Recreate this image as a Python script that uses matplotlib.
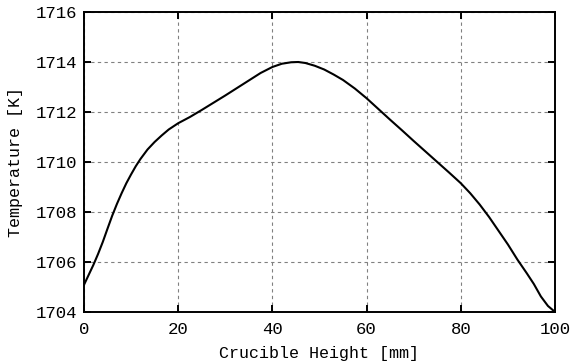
import numpy as np
import matplotlib
matplotlib.use('Agg')
import matplotlib.pyplot as plt

# values
height = [0, 1, 2, 3, 4, 5, 6, 7, 8, 9, 10, 11, 12, 13.5, 15, 16.5, 18, 20, 22.5,
          25, 27.5, 30, 32.5, 35, 37.5, 40, 42, 44, 45.5, 47, 49, 51, 53, 55, 57.5,
          60, 62.5, 65, 67.5, 70, 72.5, 75, 77.5, 80, 82, 84, 86, 88, 90, 92,
          94, 95.5, 97, 98.5, 100]
temperature = [1705.08, 1705.48, 1705.88, 1706.32, 1706.8, 1707.33, 1707.85, 1708.32,
               1708.75, 1709.15, 1709.5, 1709.83, 1710.12, 1710.5, 1710.8, 1711.06,
               1711.3, 1711.55, 1711.8, 1712.08, 1712.37, 1712.66, 1712.96, 1713.26,
               1713.56, 1713.8, 1713.93, 1713.99, 1714.0, 1713.96, 1713.85, 1713.7,
               1713.5, 1713.28, 1712.94, 1712.55, 1712.12, 1711.69, 1711.27, 1710.84,
               1710.42, 1710.0, 1709.58, 1709.15, 1708.75, 1708.3, 1707.8, 1707.25,
               1706.7, 1706.1, 1705.55, 1705.12, 1704.62, 1704.24, 1704.0]

plt.rcParams['font.family'] = ['Liberation Mono', 'DejaVu Sans Mono']

fig = plt.figure(figsize=(5.71, 3.64), dpi=100)
ax = fig.add_axes([0.147, 0.143, 0.825, 0.824])

ax.plot(height, temperature, color='black', linewidth=1.5)

ax.set_xlim(0, 100)
ax.set_ylim(1704, 1716)
ax.set_xticks(np.arange(0, 101, 20))
ax.set_yticks(np.arange(1704, 1717, 2))
ax.grid(True, linestyle=(0, (3, 3)), color='#808080', linewidth=0.8)

ax.tick_params(direction='in', length=5, width=1.4, top=True, right=True,
               labelsize=12.5, pad=5)
ax.tick_params(axis='x', pad=7)
for s in ax.spines.values():
    s.set_linewidth(1.4)

ax.set_xlabel('Crucible Height [mm]', fontsize=12, labelpad=7)
ax.set_ylabel('Temperature [K]', fontsize=12, labelpad=9)

fig.savefig('out.png', dpi=100)
